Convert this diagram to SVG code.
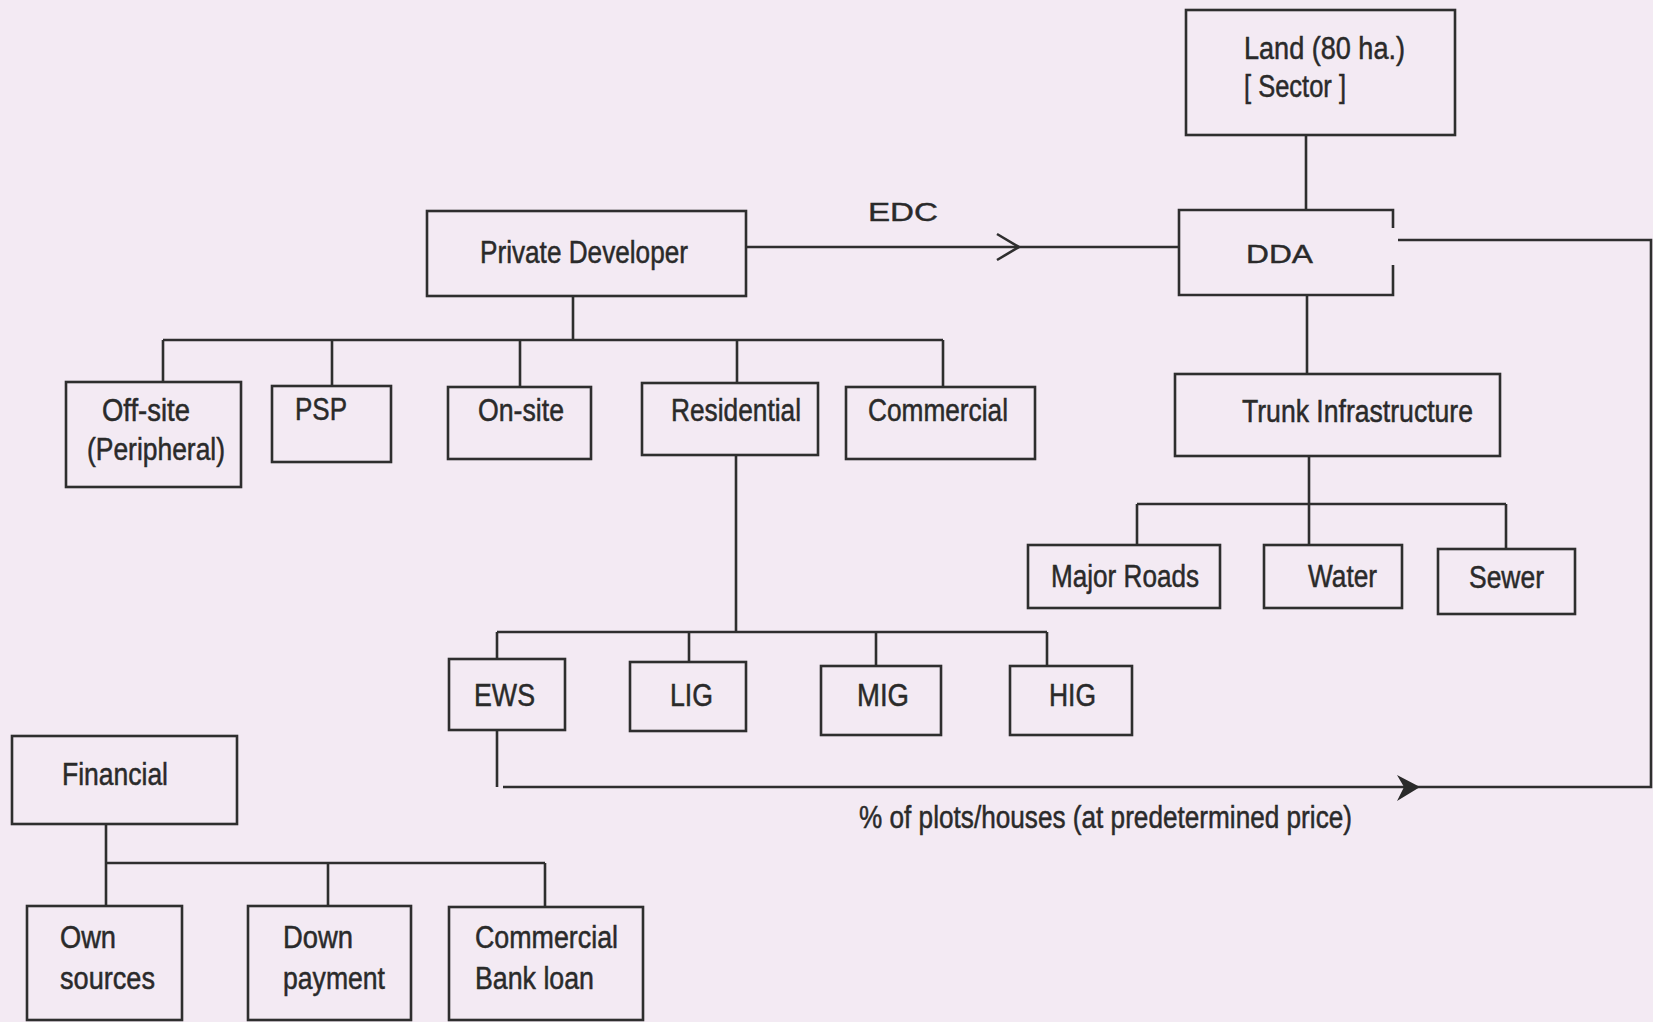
<svg xmlns="http://www.w3.org/2000/svg" width="1653" height="1022" viewBox="0 0 1653 1022">
<style>
.bg{fill:#f3eaf3}
.box{fill:none;stroke:#2e2e2e;stroke-width:2.6}
.ln{fill:none;stroke:#2e2e2e;stroke-width:2.6}
.t{font-family:"Liberation Sans",Arial,sans-serif;font-size:31px;fill:#2a2a2a;stroke:#2a2a2a;stroke-width:0.5}
.s{font-family:"Liberation Sans",Arial,sans-serif;font-size:25px;fill:#2a2a2a;stroke:#2a2a2a;stroke-width:0.4}
</style>
<rect class="bg" x="0" y="0" width="1653" height="1022"/>
<g id="connectors">
<path class="ln" d="M1306 135V210"/>
<path class="ln" d="M746 247H1179"/>
<polyline class="ln" points="997,234 1019,247 997,260" stroke-width="3.2"/>
<path class="ln" d="M1398 240H1651V787H503"/>
<path class="ln" d="M497 730V787"/>
<path d="M1397 775L1420 787L1397 801L1404 787Z" fill="#2a2a2a"/>
<path class="ln" d="M1307 295V374"/>
<path class="ln" d="M573 296V340M163 340H943M163 340V382M332 340V385M520 340V387M737 340V383M943 340V387"/>
<path class="ln" d="M736 455V632M497 632H1047M497 632V659M689 632V662M876 632V666M1047 632V666"/>
<path class="ln" d="M1309 456V504M1137 504H1506M1137 504V545M1309 504V545M1506 504V549"/>
<path class="ln" d="M106 824V863H545M106 863V906M328 863V906M545 863V907"/>
<text class="s" x="868" y="221" textLength="70" lengthAdjust="spacingAndGlyphs">EDC</text>
<text class="t" x="859" y="828" textLength="493" lengthAdjust="spacingAndGlyphs">% of plots/houses (at predetermined price)</text>
</g>
<g id="land">
<rect class="box" x="1186" y="10" width="269" height="125"/>
<text class="t" x="1244" y="59" textLength="161" lengthAdjust="spacingAndGlyphs">Land (80  ha.)</text>
<text class="t" x="1244" y="97" textLength="102" lengthAdjust="spacingAndGlyphs">[ Sector ]</text>
</g>
<g id="dda">
<path class="box" d="M1393 228V210H1179V295H1393V265"/>
<text class="s" x="1246" y="263" textLength="67" lengthAdjust="spacingAndGlyphs">DDA</text>
</g>
<g id="private-developer">
<rect class="box" x="427" y="211" width="319" height="85"/>
<text class="t" x="480" y="263" textLength="208" lengthAdjust="spacingAndGlyphs">Private Developer</text>
</g>
<g id="off-site">
<rect class="box" x="66" y="382" width="175" height="105"/>
<text class="t" x="102" y="421" textLength="88" lengthAdjust="spacingAndGlyphs">Off-site</text>
<text class="t" x="87" y="460" textLength="138" lengthAdjust="spacingAndGlyphs">(Peripheral)</text>
</g>
<g id="psp">
<rect class="box" x="272" y="386" width="119" height="76"/>
<text class="t" x="295" y="420" textLength="52" lengthAdjust="spacingAndGlyphs">PSP</text>
</g>
<g id="on-site">
<rect class="box" x="448" y="387" width="143" height="72"/>
<text class="t" x="478" y="421" textLength="86" lengthAdjust="spacingAndGlyphs">On-site</text>
</g>
<g id="residential">
<rect class="box" x="642" y="383" width="176" height="72"/>
<text class="t" x="671" y="421" textLength="130" lengthAdjust="spacingAndGlyphs">Residential</text>
</g>
<g id="commercial">
<rect class="box" x="846" y="387" width="189" height="72"/>
<text class="t" x="868" y="421" textLength="140" lengthAdjust="spacingAndGlyphs">Commercial</text>
</g>
<g id="trunk-infrastructure">
<rect class="box" x="1175" y="374" width="325" height="82"/>
<text class="t" x="1242" y="422" textLength="231" lengthAdjust="spacingAndGlyphs">Trunk Infrastructure</text>
</g>
<g id="major-roads">
<rect class="box" x="1028" y="545" width="192" height="63"/>
<text class="t" x="1051" y="587" textLength="148" lengthAdjust="spacingAndGlyphs">Major Roads</text>
</g>
<g id="water">
<rect class="box" x="1264" y="545" width="138" height="63"/>
<text class="t" x="1308" y="587" textLength="69" lengthAdjust="spacingAndGlyphs">Water</text>
</g>
<g id="sewer">
<rect class="box" x="1438" y="549" width="137" height="65"/>
<text class="t" x="1469" y="588" textLength="75" lengthAdjust="spacingAndGlyphs">Sewer</text>
</g>
<g id="ews">
<rect class="box" x="449" y="659" width="116" height="71"/>
<text class="t" x="474" y="706" textLength="61" lengthAdjust="spacingAndGlyphs">EWS</text>
</g>
<g id="lig">
<rect class="box" x="630" y="662" width="116" height="69"/>
<text class="t" x="670" y="706" textLength="43" lengthAdjust="spacingAndGlyphs">LIG</text>
</g>
<g id="mig">
<rect class="box" x="821" y="666" width="120" height="69"/>
<text class="t" x="857" y="706" textLength="52" lengthAdjust="spacingAndGlyphs">MIG</text>
</g>
<g id="hig">
<rect class="box" x="1010" y="666" width="122" height="69"/>
<text class="t" x="1049" y="706" textLength="47" lengthAdjust="spacingAndGlyphs">HIG</text>
</g>
<g id="financial">
<rect class="box" x="12" y="736" width="225" height="88"/>
<text class="t" x="62" y="785" textLength="106" lengthAdjust="spacingAndGlyphs">Financial</text>
</g>
<g id="own-sources">
<rect class="box" x="27" y="906" width="155" height="114"/>
<text class="t" x="60" y="948" textLength="56" lengthAdjust="spacingAndGlyphs">Own</text>
<text class="t" x="60" y="989" textLength="95" lengthAdjust="spacingAndGlyphs">sources</text>
</g>
<g id="down-payment">
<rect class="box" x="248" y="906" width="163" height="114"/>
<text class="t" x="283" y="948" textLength="70" lengthAdjust="spacingAndGlyphs">Down</text>
<text class="t" x="283" y="989" textLength="102" lengthAdjust="spacingAndGlyphs">payment</text>
</g>
<g id="commercial-bank-loan">
<rect class="box" x="449" y="907" width="194" height="113"/>
<text class="t" x="475" y="948" textLength="143" lengthAdjust="spacingAndGlyphs">Commercial</text>
<text class="t" x="475" y="989" textLength="119" lengthAdjust="spacingAndGlyphs">Bank loan</text>
</g>
</svg>
